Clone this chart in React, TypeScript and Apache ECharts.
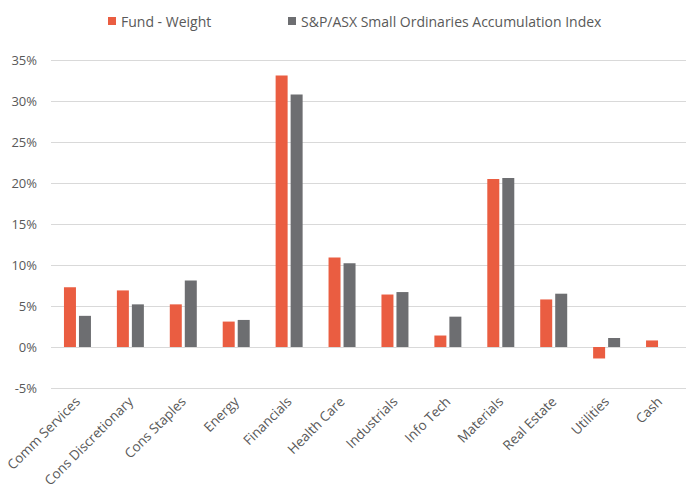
import React, { useEffect, useRef } from "react";
import * as echarts from "echarts";

const categories = [
  "Comm Services",
  "Cons Discretionary",
  "Cons Staples",
  "Energy",
  "Financials",
  "Health Care",
  "Industrials",
  "Info Tech",
  "Materials",
  "Real Estate",
  "Utilities",
  "Cash",
];
const fundWeight = [7.3, 6.9, 5.2, 3.1, 33.1, 10.9, 6.4, 1.4, 20.5, 5.8, -1.4, 0.8];
const indexWeight = [3.8, 5.2, 8.1, 3.3, 30.8, 10.2, 6.7, 3.7, 20.6, 6.5, 1.1, null];
const seriesNames = ["Fund - Weight", "S&P/ASX Small Ordinaries Accumulation Index"];
const yMin = -5;
const yMax = 35;
const yStep = 5;

const FONT = "'Open Sans', sans-serif";
const TEXT = "#595959";

export default function App() {
  const ref = useRef<HTMLDivElement>(null);
  useEffect(() => {
    if (!ref.current) return;
    const chart = echarts.init(ref.current, undefined, { renderer: "svg" });
    chart.setOption({
      animation: false,
      backgroundColor: "#ffffff",
      textStyle: { fontFamily: FONT },
      legend: [
        {
          data: [seriesNames[0]],
          left: 103,
          top: 9,
          icon: "rect",
          itemWidth: 8,
          itemHeight: 8,
          itemGap: 4,
          textStyle: { fontFamily: FONT, fontSize: 14, color: TEXT },
        },
        {
          data: [seriesNames[1]],
          left: 283,
          top: 9,
          icon: "rect",
          itemWidth: 8,
          itemHeight: 8,
          textStyle: { fontFamily: FONT, fontSize: 14, color: TEXT },
        },
      ],
      grid: { left: 51, right: -5, top: 60, bottom: 105, containLabel: false },
      xAxis: {
        type: "category",
        data: categories,
        position: "bottom",
        axisLine: { show: false, onZero: false },
        axisTick: { show: false },
        axisLabel: {
          rotate: 45,
          interval: 0,
          margin: 11,
          fontFamily: FONT,
          fontSize: 13.5,
          color: TEXT,
        },
      },
      yAxis: {
        type: "value",
        min: yMin,
        max: yMax,
        interval: yStep,
        axisLine: { show: false },
        axisTick: { show: false },
        axisLabel: {
          formatter: "{value}%",
          margin: 14,
          fontFamily: FONT,
          fontSize: 13,
          color: TEXT,
        },
        splitLine: { lineStyle: { color: "#d9d9d9", width: 1 } },
      },
      series: [
        {
          name: seriesNames[0],
          type: "bar",
          data: fundWeight,
          barWidth: 12,
          barGap: "25%",
          itemStyle: { color: "#ea5d41" },
        },
        {
          name: seriesNames[1],
          type: "bar",
          data: indexWeight,
          barWidth: 12,
          itemStyle: { color: "#6d6e71" },
        },
      ],
    });
    return () => chart.dispose();
  }, []);
  return (
    <div
      ref={ref}
      style={{ position: "fixed", left: 0, top: 0, width: 686, height: 493 }}
    />
  );
}
